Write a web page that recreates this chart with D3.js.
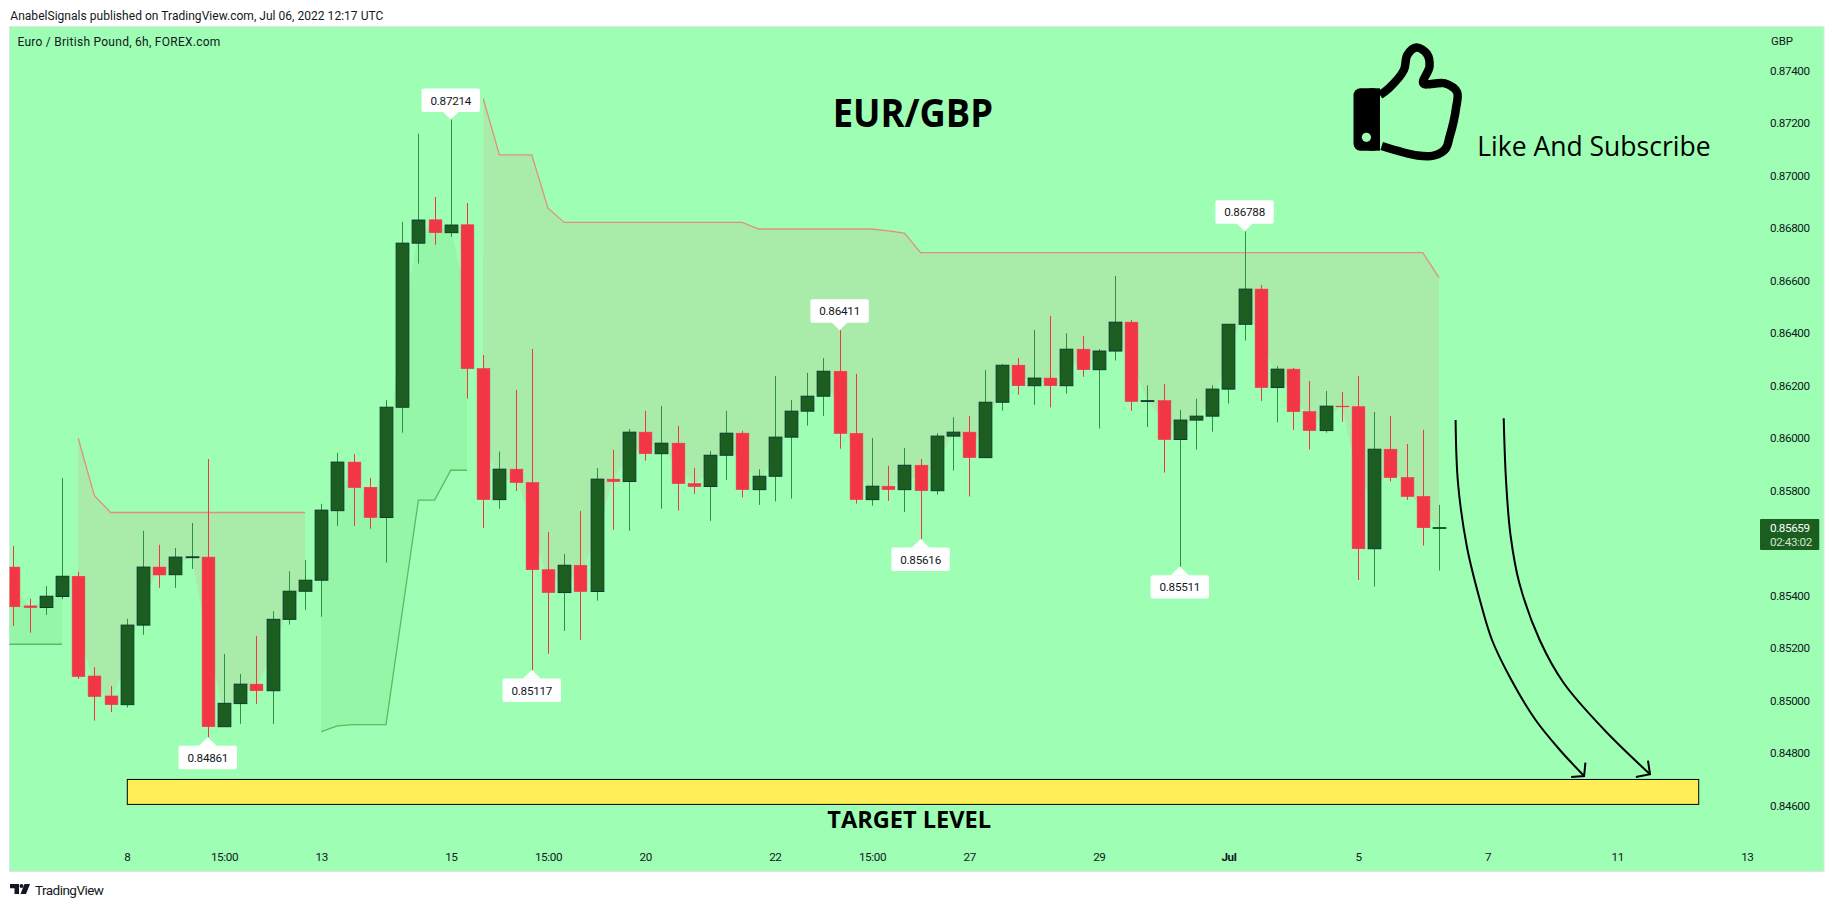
<!DOCTYPE html>
<html><head><meta charset="utf-8">
<script src="https://cdn.jsdelivr.net/npm/d3@7"></script>
<style>
html,body{margin:0;padding:0;background:#fff;overflow:hidden}
svg{display:block}
text{font-family:Roboto,"Open Sans",sans-serif;fill:#131722}
</style></head><body>
<div id="chart"></div>
<script>
// first entry is one bar left of the visible pane (clipped by the pane edge)
const opens=[.85540,.85509,.85361,.85355,.85397,.85474,.85094,.85018,.84985,.85288,.85509,.85480,.85545,.85547,.84901,.84989,.85063,.85038,.85310,.85417,.85459,.85724,.85909,.85813,.85698,.86118,.86743,.86832,.86783,.86813,.86265,.85766,.85882,.85831,.85499,.85412,.85516,.85416,.85844,.85835,.86023,.85941,.85981,.85827,.85816,.85935,.86019,.85804,.85855,.86004,.86103,.86160,.86255,.86018,.85766,.85817,.85804,.85897,.85800,.86008,.86023,.85926,.86137,.86278,.86200,.86229,.86200,.86339,.86261,.86332,.86442,.86140,.86143,.85995,.86069,.86084,.86187,.86434,.86568,.86193,.86263,.86101,.86029,.86122,.86120,.85579,.85958,.85850,.85778,.85659];
const highs=[.85560,.85589,.85388,.85437,.85848,.85491,.85128,.85056,.85312,.85647,.85594,.85582,.85677,.85921,.85178,.85102,.85247,.85341,.85493,.85536,.85750,.85944,.85940,.85849,.86146,.86824,.87160,.86919,.87214,.86896,.86317,.85949,.86184,.86340,.85643,.85559,.85723,.85886,.85956,.86035,.86104,.86123,.86047,.85887,.85951,.86104,.86028,.85882,.86237,.86145,.86249,.86305,.86411,.86245,.86001,.85895,.85963,.85921,.86019,.86080,.86085,.86260,.86283,.86306,.86412,.86466,.86400,.86390,.86340,.86618,.86451,.86202,.86207,.86108,.86150,.86202,.86434,.86788,.86584,.86275,.86268,.86218,.86180,.86176,.86237,.86100,.86085,.85978,.86032,.85746];
const lows=[.85450,.85285,.85259,.85327,.85387,.85083,.84924,.84957,.84974,.85251,.85430,.85430,.85502,.84861,.84901,.84912,.84988,.84912,.85290,.85346,.85320,.85666,.85666,.85655,.85526,.86021,.86665,.86737,.86767,.86151,.85658,.85731,.85799,.85117,.85179,.85266,.85232,.85381,.85651,.85647,.85914,.85731,.85724,.85788,.85685,.85841,.85774,.85746,.85759,.85770,.86048,.86085,.85960,.85751,.85743,.85761,.85719,.85616,.85785,.85877,.85778,.85926,.86105,.86165,.86127,.86117,.86170,.86234,.86037,.86296,.86104,.86043,.85869,.85511,.85957,.86025,.86132,.86372,.86142,.86060,.86032,.85957,.86021,.86063,.85460,.85435,.85835,.85765,.85591,.85496];
const closes=[.85509,.85358,.85355,.85398,.85474,.85092,.85016,.84985,.85288,.85509,.85479,.85547,.85548,.84901,.84990,.85063,.85038,.85310,.85417,.85459,.85726,.85909,.85812,.85698,.86118,.86743,.86831,.86783,.86812,.86265,.85766,.85882,.85831,.85499,.85412,.85516,.85416,.85844,.85835,.86023,.85941,.85981,.85827,.85816,.85935,.86019,.85804,.85855,.86004,.86103,.86160,.86255,.86018,.85766,.85817,.85804,.85897,.85800,.86008,.86023,.85926,.86137,.86278,.86200,.86229,.86200,.86339,.86261,.86332,.86442,.86140,.86143,.85995,.86069,.86084,.86187,.86434,.86568,.86193,.86263,.86101,.86029,.86122,.86120,.85579,.85958,.85850,.85778,.85659,.85659];
// Supertrend: support line and resistance line, null where the other side is active
const upLine=[.85215,.85215,.85215,.85215,.85215,null,null,null,null,null,null,null,null,null,null,null,null,null,null,null,.84882,.84904,.84909,.84909,.84909,.85337,.85764,.85764,.85878,.85878,null,null,null,null,null,null,null,null,null,null,null,null,null,null,null,null,null,null,null,null,null,null,null,null,null,null,null,null,null,null,null,null,null,null,null,null,null,null,null,null,null,null,null,null,null,null,null,null,null,null,null,null,null,null,null,null,null,null,null,null];
const downLine=[null,null,null,null,null,.86000,.85781,.85717,.85717,.85717,.85717,.85717,.85717,.85717,.85717,.85717,.85717,.85717,.85717,.85717,null,null,null,null,null,null,null,null,null,null,.87294,.87079,.87079,.87079,.86876,.86822,.86822,.86822,.86822,.86822,.86822,.86822,.86822,.86822,.86822,.86822,.86822,.86797,.86797,.86797,.86797,.86797,.86797,.86797,.86797,.86790,.86781,.86707,.86707,.86707,.86707,.86707,.86707,.86707,.86707,.86707,.86707,.86707,.86707,.86707,.86707,.86707,.86707,.86707,.86707,.86707,.86707,.86707,.86707,.86707,.86707,.86707,.86707,.86707,.86707,.86707,.86707,.86707,.86707,.86612];
const priceTicks=[.846,.848,.850,.852,.854,.858,.860,.862,.864,.866,.868,.870,.872,.874];
const timeTickBars=[7,13,19,27,33,39,47,53,59,67,75,83,91,99,107];
const timeTickLabels=["8","15:00","13","15","15:00","20","22","15:00","27","29","Jul","5","7","11","13"];
const calloutBars=[27,51,76,12,32,56,72];
const calloutSides=["high","high","high","low","low","low","low"];
const targetPrices=[.84605,.84700];
const targetBars=[7,104];
const lastPrice=.85659, countdown="02:43:02";

const W=1834,H=907;
const pane={l:9.5,r:1824,t:26.5,b:871.5};
const x=d3.scaleLinear().domain([-1,88]).range([-2.8,1439]);
const y=d3.scaleLinear().domain([.846,.874]).range([805.7,70.7]);
const barAt=i=>i-1; // array position -> bar number
const fmt=d3.format(".5f");
const bars=opens.map((o,k)=>({i:barAt(k),o,h:highs[k],l:lows[k],c:closes[k],up:upLine[k],dn:downLine[k]}));
const isUp=d=>d.c>=d.o;

const svg=d3.select("#chart").append("svg").attr("width",W).attr("height",H).attr("viewBox",`0 0 ${W} ${H}`);
svg.append("rect").attr("width",W).attr("height",H).attr("fill","#fff");
svg.append("rect").attr("x",pane.l).attr("y",pane.t).attr("width",pane.r-pane.l).attr("height",pane.b-pane.t)
  .attr("fill","#9effb4").attr("stroke","#e0e3eb").attr("stroke-width",1);
svg.append("defs").append("clipPath").attr("id","pane").append("rect")
  .attr("x",pane.l).attr("y",pane.t).attr("width",pane.r-pane.l).attr("height",pane.b-pane.t);

svg.append("text").attr("x",10.3).attr("y",19.5).attr("font-size",12).attr("textLength",373).text("AnabelSignals published on TradingView.com, Jul 06, 2022 12:17 UTC");
svg.append("text").attr("x",17.4).attr("y",46).attr("font-size",12).attr("textLength",203).text("Euro / British Pound, 6h, FOREX.com");

const plot=svg.append("g").attr("clip-path","url(#pane)");
const mid=d=>y((d.o+d.c)/2);
const areaFor=key=>d3.area().defined(d=>d[key]!=null).x(d=>x(d.i)).y0(d=>y(d[key])).y1(mid);
const lineFor=key=>d3.line().defined(d=>d[key]!=null).x(d=>x(d.i)).y(d=>y(d[key]));
plot.append("path").attr("d",areaFor("dn")(bars)).attr("fill","#a9ecaa");
plot.append("path").attr("d",areaFor("up")(bars)).attr("fill","#94f6a6");
plot.append("path").attr("d",lineFor("dn")(bars)).attr("fill","none").attr("stroke","#e2907c").attr("stroke-width",1.3);
plot.append("path").attr("d",lineFor("up")(bars)).attr("fill","none").attr("stroke","#5cb868").attr("stroke-width",1.3);

// target zone
plot.append("rect").attr("x",x(targetBars[0])+.5).attr("y",y(targetPrices[1]))
  .attr("width",x(targetBars[1])-x(targetBars[0])).attr("height",y(targetPrices[0])-y(targetPrices[1]))
  .attr("fill","#ffee58").attr("stroke","#000").attr("stroke-width",1);

// candles
const bw=12.7;
const gc=plot.append("g").selectAll("g").data(bars).join("g");
gc.append("line").attr("x1",d=>Math.round(x(d.i))+.5).attr("x2",d=>Math.round(x(d.i))+.5)
  .attr("y1",d=>y(d.h)).attr("y2",d=>y(d.l)).attr("stroke",d=>isUp(d)?"#2f8f42":"#f23645").attr("stroke-width",1);
gc.append("rect").attr("x",d=>Math.round(x(d.i))+.5-bw/2).attr("width",bw)
  .attr("y",d=>y(Math.max(d.o,d.c))).attr("height",d=>Math.max(y(Math.min(d.o,d.c))-y(Math.max(d.o,d.c)),.6))
  .attr("fill",d=>isUp(d)?"#1b5e20":"#f23645")
  .attr("stroke",d=>isUp(d)?"#0d3b2e":"#f23645").attr("stroke-width",d=>isUp(d)?1:.6);

// high / low callouts
calloutBars.forEach((b,k)=>{
  const d=bars[b+1],side=calloutSides[k],px=x(b),v=side==="high"?d.h:d.l,py=y(v),s=side==="high"?-1:1;
  const g=svg.append("g");
  const ry=s<0?py-31:py+8.6;
  g.append("rect").attr("x",px-29.2).attr("y",ry).attr("width",58.4).attr("height",23.4).attr("rx",2).attr("fill","#fff");
  g.append("path").attr("d",`M${px-9},${py+s*8.8}L${px},${py}L${px+9},${py+s*8.8}Z`).attr("fill","#fff");
  g.append("text").attr("x",px).attr("y",ry+16).attr("text-anchor","middle").attr("font-size",11.7).style("letter-spacing","-.25px").text(fmt(v));
});

// axes
const yAxis=d3.axisRight(y).tickValues(priceTicks).tickSize(0).tickPadding(0).tickFormat(fmt);
const ya=svg.append("g").attr("transform","translate(1770,0)").call(yAxis);
ya.select(".domain").remove();
ya.selectAll("text").attr("font-size",11.7).style("letter-spacing","-.4px").style("font-family","Roboto").style("fill","#131722");
const xAxis=d3.axisBottom(x).tickValues(timeTickBars).tickSize(0).tickPadding(0).tickFormat(v=>timeTickLabels[timeTickBars.indexOf(v)]);
const xa=svg.append("g").attr("transform","translate(0,853)").call(xAxis);
xa.select(".domain").remove();
xa.selectAll("text").attr("font-size",11.7).style("letter-spacing","-.4px").style("font-family","Roboto").style("fill","#131722")
  .attr("font-weight",t=>t===75?700:400);

svg.append("text").attr("x",1771).attr("y",44.7).attr("font-size",11.5).attr("textLength",22).text("GBP");

// last price tag
svg.append("rect").attr("x",1760).attr("y",519).attr("width",59.3).attr("height",31).attr("rx",1).attr("fill","#1b5e20");
svg.append("text").attr("x",1770).attr("y",y(lastPrice)+4).attr("font-size",11.7).style("letter-spacing","-.4px").style("fill","#ffffff").text(fmt(lastPrice));
svg.append("text").attr("x",1770).attr("y",546).attr("font-size",11.7).style("letter-spacing","-.4px").style("fill","#cfe3cf").text(countdown);

// drawings
svg.append("text").attr("x",832.7).attr("y",126.7).attr("font-size",39.5).attr("font-weight",700).attr("textLength",160.3).attr("lengthAdjust","spacingAndGlyphs")
  .style("font-family","'Open Sans'").style("fill","#000").text("EUR/GBP");
svg.append("text").attr("x",827.3).attr("y",827.7).attr("font-size",23.5).attr("font-weight",700).attr("textLength",163.7).attr("lengthAdjust","spacingAndGlyphs")
  .style("font-family","'Open Sans'").style("fill","#000").text("TARGET LEVEL");
svg.append("text").attr("x",1477.2).attr("y",155.7).attr("font-size",27.5).attr("textLength",233.4).attr("lengthAdjust","spacingAndGlyphs")
  .style("font-family","'Open Sans'").style("fill","#000").text("Like And Subscribe");

// hand-drawn thumb
const thumb=[[1380,95],[1389.2,88],[1403.9,70],[1407.3,55],[1416.5,47.5],[1427,54],[1429.5,66.7],[1423.3,83.3],[1444.6,83.3],[1457,92],[1456,108.3],[1453.5,122],[1449.6,136.7],[1445.6,148.7],[1434,155.5],[1417.6,155.5],[1381.7,146]];
svg.append("path").attr("d",d3.line().curve(d3.curveCatmullRom.alpha(.5))(thumb)).attr("fill","none").attr("stroke","#000").attr("stroke-width",8.5).attr("stroke-linejoin","round");
svg.append("rect").attr("x",1353.5).attr("y",88.3).attr("width",26.5).attr("height",62.4).attr("rx",7).attr("fill","#000");
svg.append("rect").attr("x",1369).attr("y",88.3).attr("width",11).attr("height",62.4).attr("fill","#000");
svg.append("circle").attr("cx",1366.4).attr("cy",137.3).attr("r",4.6).attr("fill","#9effb4");

// hand-drawn arrows
const curve=d3.line().curve(d3.curveCatmullRom.alpha(.5));
const arrows=[
 {p:[[1455.6,420],[1458,483],[1466.9,546.7],[1479,596.7],[1492,640],[1511.4,680],[1535.6,720],[1559.9,750],[1584.1,776]],h:[[1571.2,777],[1584.1,776],[1585.4,762.7]]},
 {p:[[1503.7,418.3],[1506,480],[1510.5,535],[1519.4,583.3],[1539.7,640],[1563.9,683.3],[1604.4,730],[1650,774.3]],h:[[1635.9,777],[1650,774.3],[1648,760.7]]}
];
arrows.forEach(a=>{
  svg.append("path").attr("d",curve(a.p)).attr("fill","none").attr("stroke","#000").attr("stroke-width",2);
  svg.append("path").attr("d",d3.line()(a.h)).attr("fill","none").attr("stroke","#000").attr("stroke-width",2);
});

// footer logo
const logo=svg.append("g").attr("fill","#131722");
logo.append("path").attr("d","M10,884H19V894H14.5V888.2H10Z");
logo.append("circle").attr("cx",21.5).attr("cy",886).attr("r",2);
logo.append("path").attr("d","M24.5,884H30L26,894H20.5Z");
svg.append("text").attr("x",35).attr("y",894.5).attr("font-size",13.5).attr("textLength",69).text("TradingView");
</script>
</body></html>
